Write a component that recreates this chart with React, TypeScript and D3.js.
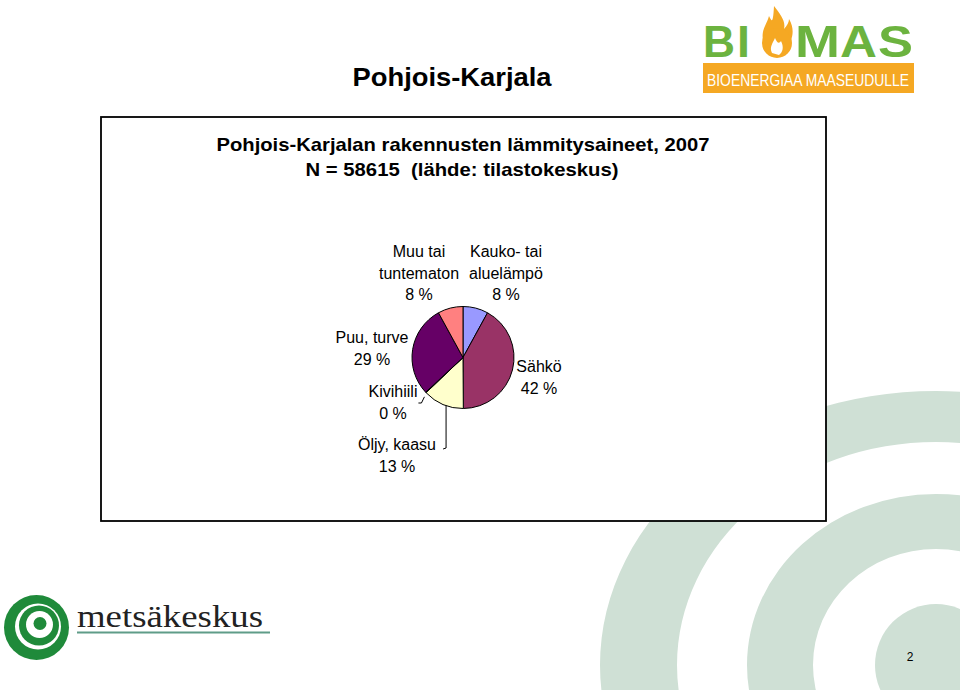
import React from "react";
import * as d3 from "d3";

// ---- data ----
const categories = ["Kauko- tai aluelämpö", "Sähkö", "Öljy, kaasu", "Kivihiili", "Puu, turve", "Muu tai tuntematon"];
const shares = [8, 42, 13, 0.2, 29, 8];
const labelLines = [["Kauko- tai", "aluelämpö"], ["Sähkö"], ["Öljy, kaasu"], ["Kivihiili"], ["Puu, turve"], ["Muu tai", "tuntematon"]];
const sliceColors = ["#9999FF", "#993366", "#FFFFCC", "#CCFFFF", "#660066", "#FF8080"];
const titleLines = ["Pohjois-Karjalan rakennusten lämmitysaineet, 2007", "N = 58615 \u00a0(lähde: tilastokeskus)"];
const slideTitle = "Pohjois-Karjala";
const pageNumber = "2";

// ---- layout ----
const W = 960, H = 690;
const cx = 463, cy = 357.5, R = 51;
const labelPos: [number, number][] = [[506, 257], [539, 372], [397, 450], [393, 397], [372, 343], [419, 257]];
const LH = 21.5;
const ringColor = "#cfe0d5";

export default function App() {
  const pie = d3.pie<number>().value((d) => d).sort(null).startAngle(0).endAngle(2 * Math.PI);
  const arcs = pie(shares);
  const arcGen = d3.arc<d3.PieArcDatum<number>>().innerRadius(0).outerRadius(R);
  const total = d3.sum(shares);

  const edge = (a: d3.PieArcDatum<number>, r: number) => {
    const m = (a.startAngle + a.endAngle) / 2;
    return [cx + r * Math.sin(m), cy - r * Math.cos(m)];
  };

  // leader lines for small/bottom slices
  const kivi = edge(arcs[3], R + 2);
  const oljy = edge(arcs[2], R);
  const oljyX = oljy[0] + 3;
  const oljyY = cy + Math.sqrt(R * R - (oljyX - cx) * (oljyX - cx));

  const font = "'Liberation Sans', Arial, sans-serif";

  return (
    <svg width={W} height={H} style={{ position: "absolute", left: 0, top: 0, display: "block", background: "#fff" }}>
      {/* background rings */}
      <g fill={ringColor}>
        <path fillRule="evenodd" d={`M ${936 - 336} 665 a 336 274 0 1 0 672 0 a 336 274 0 1 0 -672 0 Z M ${936 - 259} 665 a 259 223 0 1 0 518 0 a 259 223 0 1 0 -518 0 Z`} />
        <path fillRule="evenodd" d={`M ${936 - 189} 665 a 189 171 0 1 0 378 0 a 189 171 0 1 0 -378 0 Z M ${936 - 123} 665 a 123 116 0 1 0 246 0 a 123 116 0 1 0 -246 0 Z`} />
        <circle cx={936} cy={665} r={61} />
      </g>

      {/* BIOMAS logo */}
      <g fontFamily={font} fontWeight="bold">
        <g fill="#6cb33f" fontSize={44}>
          <text x={703} y={57} textLength={32} lengthAdjust="spacingAndGlyphs">B</text>
          <text x={737} y={57} textLength={13} lengthAdjust="spacingAndGlyphs">I</text>
          <text x={795} y={57} textLength={45} lengthAdjust="spacingAndGlyphs">M</text>
          <text x={840} y={57} textLength={37} lengthAdjust="spacingAndGlyphs">A</text>
          <text x={878} y={57} textLength={35} lengthAdjust="spacingAndGlyphs">S</text>
        </g>
        <path fill="#f5a823" d="M763,40 C761,30 767,24 769,16 C772,22 773,24 774,6 C780,14 786,21 784,29 C787,26 789,22 789,19 C794,27 793,35 791,40 Z" />
        <circle cx={777} cy={43} r={15} fill="#f5a823" />
        <path fill="#fff" d="M772,53 C769,47 773,43 775,38 C777,43 779,44 781,41 C784,47 783,52 779,55 Z" />
        <rect x={703} y={63} width={211} height={30} fill="#f5a823" />
        <text x={707} y={86} fill="#fff" fontSize={17} fontWeight="normal" fontFamily={font} textLength={202} lengthAdjust="spacingAndGlyphs">BIOENERGIAA MAASEUDULLE</text>
      </g>

      {/* slide title */}
      <text x={452} y={86} textAnchor="middle" fontFamily={font} fontWeight="bold" fontSize={26} fill="#000" textLength={199} lengthAdjust="spacingAndGlyphs">{slideTitle}</text>

      {/* chart box */}
      <rect x={101} y={117} width={725} height={404} fill="#fff" stroke="#000" strokeWidth={1.8} />

      {/* chart titles */}
      <g fontFamily={font} fontWeight="bold" fontSize={18.5} fill="#000" textAnchor="middle">
        <text x={463} y={151} textLength={493} lengthAdjust="spacingAndGlyphs">{titleLines[0]}</text>
        <text x={462} y={176} textLength={313} lengthAdjust="spacingAndGlyphs">{titleLines[1]}</text>
      </g>

      {/* pie */}
      <g transform={`translate(${cx},${cy})`}>
        {arcs.map((a, i) => (
          <path key={categories[i]} d={arcGen(a) || ""} fill={sliceColors[i]} stroke="#000" strokeWidth={1} />
        ))}
      </g>

      {/* leader lines */}
      <g fill="none" stroke="#000" strokeWidth={1}>
        <polyline points={`${kivi[0]},${kivi[1] + 3} ${kivi[0] - 3},${labelPos[3][1] + 6} ${kivi[0] - 6},${labelPos[3][1] + 6}`} />
        <polyline points={`${oljyX},${oljyY} ${oljyX},${labelPos[2][1] - 2} ${oljyX - 3},${labelPos[2][1] - 1}`} />
      </g>

      {/* labels */}
      <g fontFamily={font} fontSize={16} fill="#000" textAnchor="middle">
        {arcs.map((a, i) => {
          const [lx, ly] = labelPos[i];
          const lines = [...labelLines[i], `${Math.round((shares[i] / total) * 100)} %`];
          return (
            <text key={categories[i]} x={lx} y={ly}>
              {lines.map((l, j) => (
                <tspan key={j} x={lx} y={ly + j * LH}>{l}</tspan>
              ))}
            </text>
          );
        })}
      </g>

      {/* metsäkeskus logo */}
      <g fill="#1f8a3a">
        <circle cx={36.5} cy={627.5} r={32.5} />
        <circle cx={38} cy={626.5} r={23} fill="#fff" />
        <circle cx={39} cy={625.5} r={20} />
        <circle cx={39.5} cy={624.5} r={13.5} fill="#fff" />
        <circle cx={40} cy={623.5} r={6.5} />
      </g>
      <text x={77} y={627} fontFamily="'Liberation Serif', 'DejaVu Serif', serif" fontSize={31} fill="#222" textLength={186} lengthAdjust="spacingAndGlyphs">metsäkeskus</text>
      <line x1={77} x2={270} y1={632.5} y2={632.5} stroke="#5f9c88" strokeWidth={2} />

      {/* page number */}
      <text x={910} y={661} textAnchor="middle" fontFamily={font} fontSize={12} fill="#000">{pageNumber}</text>
    </svg>
  );
}
